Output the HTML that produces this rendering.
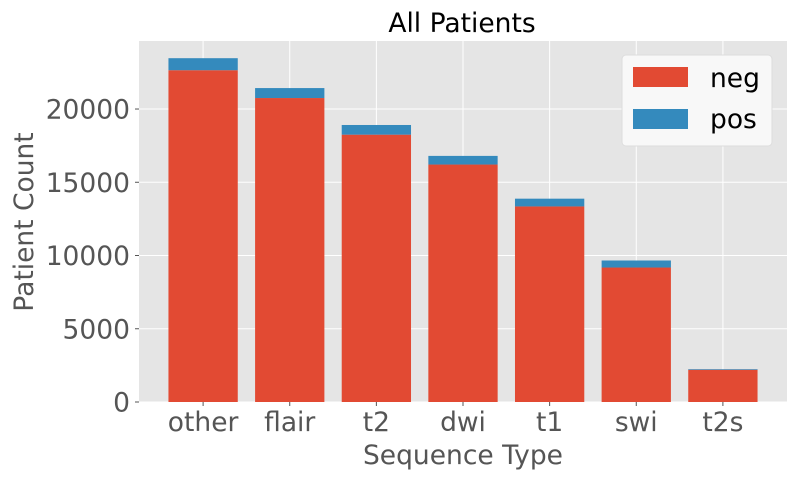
<!DOCTYPE html>
<html><head><meta charset="utf-8"><style>
body{margin:0;background:#fff;}
svg text{font-family:"DejaVu Sans","Liberation Sans",sans-serif;}
</style></head><body>
<svg id="chart" width="800" height="480" xmlns="http://www.w3.org/2000/svg">
<rect x="139" y="41" width="648" height="361" fill="#e5e5e5"/>
<g id="grid"></g><g id="bars"></g><g id="ticks"></g>
<text x="462" y="32" font-size="26.5" text-anchor="middle" fill="#000">All Patients</text>
<text x="463" y="464" font-size="26.5" text-anchor="middle" fill="#555">Sequence Type</text>
<text transform="translate(33,222) rotate(-90)" font-size="26.5" text-anchor="middle" fill="#555">Patient Count</text>
<g>
<rect x="622" y="55" width="150" height="91" rx="4" fill="#f8f8f8" stroke="#ddd" stroke-width="1"/>
<g><rect x="633" y="67" width="55" height="20" fill="#E24A33"/><text x="710" y="87" font-size="26.5" fill="#000">neg</text></g>
<g><rect x="633" y="109" width="55" height="20" fill="#348ABD"/><text x="710" y="128" font-size="26.5" fill="#000">pos</text></g>
</g>
</svg>
<script>
const categories=["other","flair","t2","dwi","t1","swi","t2s"];
const negValues=[22650,20750,18250,16210,13350,9180,2200];
const posValues=[820,680,660,590,530,480,45];
const yTicks=[0,5000,10000,15000,20000];
const NS="http://www.w3.org/2000/svg";
const L=139,R=787,T=41,B=402;
const yMax=Math.max(...categories.map((c,i)=>negValues[i]+posValues[i]))*1.05;
const xMin=-0.74,xMax=categories.length-1+0.74;
const xs=i=>L+(i-xMin)/(xMax-xMin)*(R-L);
const ys=v=>B-v/yMax*(B-T);
const bw=0.8*(xs(1)-xs(0));
function mk(tag,attrs,parent){const e=document.createElementNS(NS,tag);for(const k in attrs)e.setAttribute(k,attrs[k]);parent.appendChild(e);return e;}
const grid=document.getElementById('grid'),bars=document.getElementById('bars'),ticks=document.getElementById('ticks');
yTicks.forEach(t=>{
 const l=mk('line',{x1:L,x2:R,y1:ys(t),y2:ys(t),stroke:'#fff','stroke-width':1},grid);
 
 
 const tk=mk('line',{x1:L-4,x2:L,y1:ys(t),y2:ys(t),stroke:'#555','stroke-width':1},ticks);
 
 
 const tx=mk('text',{x:L-9,y:ys(t)+9.5,'font-size':26.5,'text-anchor':'end',fill:'#555'},ticks);
 tx.textContent=t;
 
 
});
categories.forEach((c,i)=>{
 const g=mk('line',{x1:xs(i),x2:xs(i),y1:T,y2:B,stroke:'#fff','stroke-width':1},grid);
 
 
 const n=mk('rect',{x:xs(i)-bw/2,y:ys(negValues[i]),width:bw,height:B-ys(negValues[i]),fill:'#E24A33'},bars);
 
 
 const p=mk('rect',{x:xs(i)-bw/2,y:ys(negValues[i]+posValues[i]),width:bw,height:ys(negValues[i])-ys(negValues[i]+posValues[i]),fill:'#348ABD'},bars);
 
 
 const tk=mk('line',{x1:xs(i),x2:xs(i),y1:B,y2:B+4,stroke:'#555','stroke-width':1},ticks);
 
 
 const tx=mk('text',{x:xs(i),y:431,'font-size':26.5,'text-anchor':'middle',fill:'#555'},ticks);
 tx.textContent=c;
 
 
});
</script>
</body></html>
